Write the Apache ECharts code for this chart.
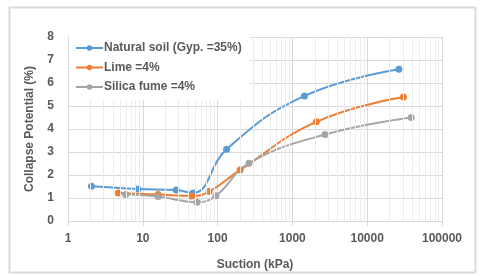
<!DOCTYPE html>
<html>
<head>
<meta charset="utf-8">
<script src="https://cdn.jsdelivr.net/npm/echarts@6/dist/echarts.min.js"></script>
<style>html,body{margin:0;padding:0;background:#fff}#c{width:480px;height:276px}</style>
</head>
<body>
<div id="c"></div>
<script>
// Data
var seriesNames = ['Natural soil (Gyp. =35%)', 'Lime =4%', 'Silica fume =4%'];
var naturalSoil = [[2.06, 1.51], [8.6, 1.39], [28, 1.35], [47, 1.22], [132, 3.12], [1450, 5.44], [26500, 6.60]];
var lime = [[4.7, 1.22], [16, 1.15], [45, 1.09], [77, 1.28], [200, 2.22], [2090, 4.31], [30500, 5.39]];
var silicaFume = [[5.9, 1.15], [16, 1.06], [53, 0.82], [95, 1.10], [262, 2.51], [2730, 3.76], [38700, 4.50]];
var minorGridValues = [2,3,4,5,6,7,8,9,20,30,40,50,60,70,80,90,200,300,400,500,600,700,800,900,
  2000,3000,4000,5000,6000,7000,8000,9000,20000,30000,40000,50000,60000,70000,80000,90000];
var colors = ['#5B9BD5', '#ED7D31', '#A5A5A5'];

var font = 'Liberation Sans';
var txt = '#595959';
var chart = echarts.init(document.getElementById('c'));
function mk(name, data, color) {
  return {
    name: name, type: 'line', data: data, smooth: 0.45,
    symbol: 'circle', symbolSize: 7, z: 3,
    itemStyle: { color: color },
    lineStyle: { color: color, width: 2 }
  };
}
chart.setOption({
  animation: false,
  backgroundColor: '#fff',
  color: colors,
  graphic: [{
    type: 'rect', left: 7, top: 5, z: -10,
    shape: { width: 466, height: 265 },
    style: { fill: 'none', stroke: '#d9d9d9', lineWidth: 2 }
  }],
  grid: { left: 68, right: 38, top: 37, bottom: 54 },
  legend: {
    data: seriesNames, orient: 'vertical', left: 69, top: 35,
    padding: [6, 8, 6, 6], itemGap: 5.5, itemWidth: 27, itemHeight: 7,
    backgroundColor: '#fff', z: 10,
    textStyle: { fontFamily: font, fontSize: 12, fontWeight: 'bold', color: txt, padding: [0,0,0,-4], lineHeight: 14 }
  },
  xAxis: {
    type: 'log', logBase: 10, min: 1, max: 100000,
    name: 'Suction (kPa)', nameLocation: 'middle', nameGap: 38,
    nameTextStyle: { fontFamily: font, fontSize: 12, fontWeight: 'bold', color: txt },
    axisLine: { show: true, lineStyle: { color: '#d9d9d9', width: 1 } },
    axisTick: { show: true, length: 5, lineStyle: { color: '#d9d9d9' } },
    axisLabel: { fontFamily: font, fontSize: 12, fontWeight: 'bold', color: txt, margin: 12,
      formatter: function (v) { return String(Math.round(v)); } },
    splitLine: { show: true, lineStyle: { color: '#d9d9d9', width: 1 } }
  },
  yAxis: {
    type: 'value', min: 0, max: 8, interval: 1,
    name: 'Collapse Potential (%)', nameLocation: 'middle', nameGap: 32,
    nameTextStyle: { fontFamily: font, fontSize: 12, fontWeight: 'bold', color: txt },
    axisLine: { show: false }, axisTick: { show: false },
    axisLabel: { fontFamily: font, fontSize: 12, fontWeight: 'bold', color: txt, margin: 14 },
    splitLine: { show: true, lineStyle: { color: '#d9d9d9', width: 1 } }
  },
  series: [
    {
      name: 'minor', type: 'line', data: [], silent: true, z: 1,
      markLine: {
        silent: true, symbol: 'none', label: { show: false },
        lineStyle: { color: '#ececec', width: 1, type: 'solid' },
        data: minorGridValues.map(function (v) { return { xAxis: v }; })
      }
    },
    mk(seriesNames[0], naturalSoil, colors[0]),
    mk(seriesNames[1], lime, colors[1]),
    mk(seriesNames[2], silicaFume, colors[2])
  ]
});
</script>
</body>
</html>
